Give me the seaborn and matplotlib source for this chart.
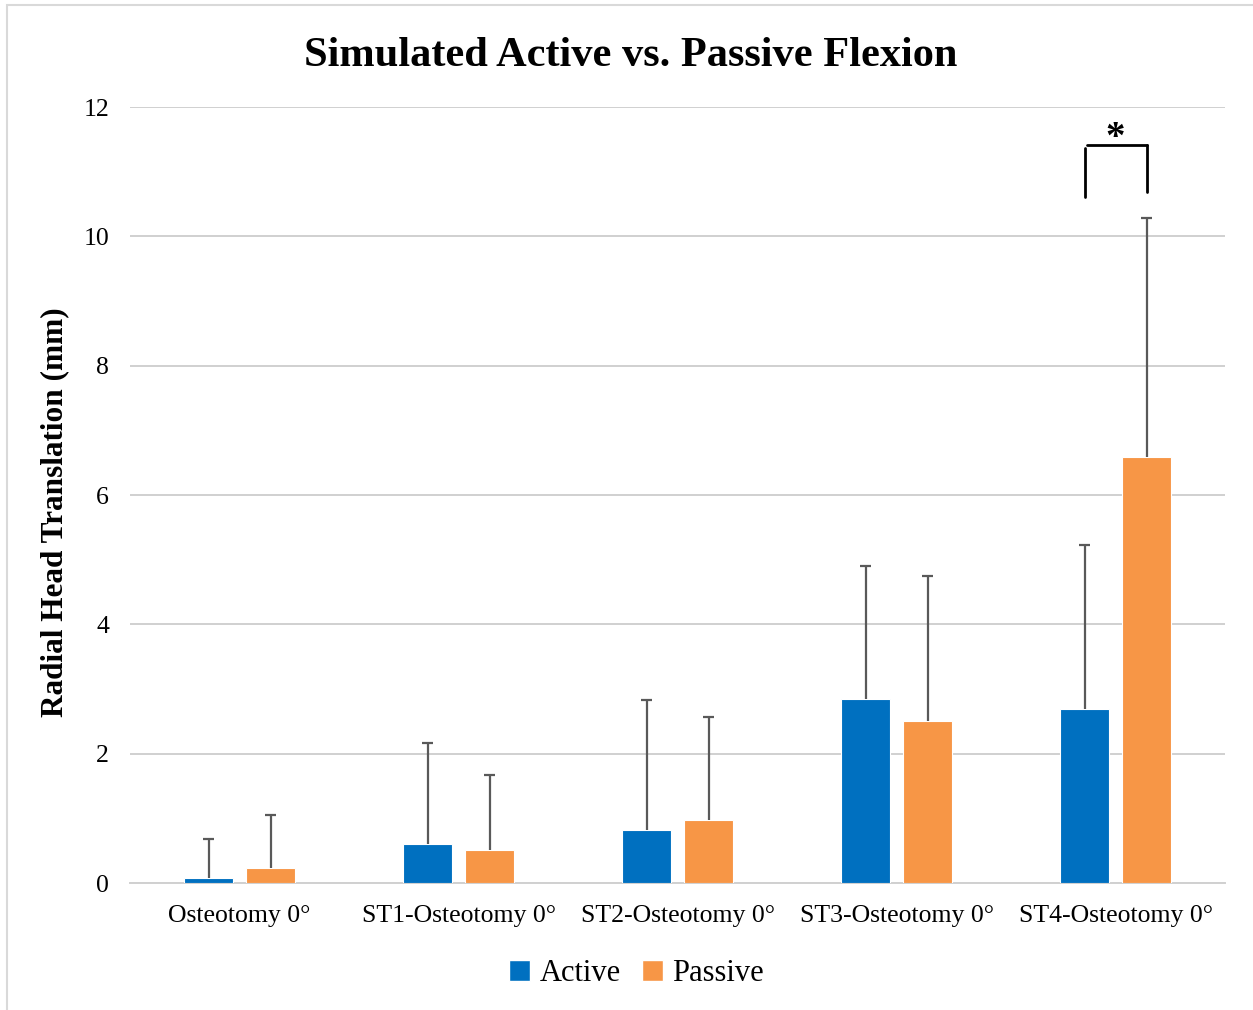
import matplotlib
matplotlib.use("Agg")
import matplotlib.pyplot as plt
import seaborn as sns
import pandas as pd
from matplotlib.patches import Rectangle, Patch

# Mean radial head translation (mm) and upper standard deviation
categories = ["Osteotomy 0°", "ST1-Osteotomy 0°", "ST2-Osteotomy 0°",
              "ST3-Osteotomy 0°", "ST4-Osteotomy 0°"]
active_mean = [0.08, 0.60, 0.82, 2.85, 2.69]
active_sd = [0.60, 1.56, 2.01, 2.05, 2.54]
passive_mean = [0.23, 0.51, 0.97, 2.50, 6.59]
passive_sd = [0.82, 1.16, 1.60, 2.25, 3.69]
series = ["Active", "Passive"]
colors = ["#0070C0", "#F79646"]

df = pd.DataFrame({
    "category": categories * 2,
    "condition": [series[0]] * 5 + [series[1]] * 5,
    "mean": active_mean + passive_mean,
    "sd": active_sd + passive_sd,
})

sns.set_theme(style="white")
plt.rcParams["font.family"] = ["Liberation Serif", "DejaVu Serif"]
plt.rcParams["text.color"] = "black"
plt.rcParams["axes.labelcolor"] = "black"

fig = plt.figure(figsize=(12.53, 10.10), dpi=100)
ax = fig.add_axes([0.1038, 0.1257, 0.8739, 0.7683])

sns.barplot(data=df, x="category", y="mean", hue="condition",
            palette=colors, order=categories, hue_order=series,
            width=0.566, gap=0.21, errorbar=None, saturation=1, ax=ax,
            edgecolor="white", linewidth=0.8, legend=False, zorder=3)

# Upward-only error bars with a cap at the top
cap_half = 0.027
for container, name in zip(ax.containers, series):
    sub = df[df["condition"] == name]
    for patch, m, s in zip(container.patches, sub["mean"], sub["sd"]):
        xc = patch.get_x() + patch.get_width() / 2
        ax.vlines(xc, m, m + s, color="#595959", lw=1.6, zorder=4)
        ax.hlines(m + s, xc - cap_half, xc + cap_half, color="#595959",
                  lw=1.6, zorder=4)

ax.set_ylim(0, 12)
ax.set_yticks(range(0, 13, 2))
ax.set_xlim(-0.5, 4.5)
ax.yaxis.grid(True, color="#D0D0D0", linewidth=1.4, zorder=0)
ax.set_axisbelow(True)
for s in ["top", "right", "left"]:
    ax.spines[s].set_visible(False)
ax.spines["bottom"].set_color("#D0D0D0")
ax.spines["bottom"].set_linewidth(1.4)
ax.tick_params(axis="both", length=0, labelsize=18.5, colors="black")
ax.tick_params(axis="x", pad=16)
ax.tick_params(axis="y", pad=15)
ax.set_xlabel("")
ax.set_ylabel("Radial Head Translation (mm)", fontsize=22.5,
              fontweight="bold", labelpad=10)
ax.yaxis.label.set_y(0.478)
fig.text(0.503, 0.945, "Simulated Active vs. Passive Flexion", fontsize=30.5,
         fontweight="bold", ha="center", va="center")

# Significance bracket between ST4 bars
p_act = ax.containers[0].patches[4]
p_pas = ax.containers[1].patches[4]
xa = p_act.get_x() + p_act.get_width() / 2
xp = p_pas.get_x() + p_pas.get_width() / 2
ax.plot([xa, xa], [10.61, 11.37], color="black", lw=2, clip_on=False)
ax.plot([xa + 0.01, xp], [11.41, 11.41], color="black", lw=2, clip_on=False)
ax.plot([xp, xp], [10.68, 11.41], color="black", lw=2, clip_on=False)
ax.text((xa + xp) / 2, 11.22, "*", ha="center", va="bottom",
        fontsize=28, fontweight="bold")

handles = [Patch(facecolor=c, label=n) for c, n in zip(colors, series)]
fig.legend(handles=handles, loc="center", bbox_to_anchor=(0.508, 0.036),
           ncol=2, frameon=False, fontsize=22, handlelength=0.7,
           handleheight=0.7, handletextpad=0.3, columnspacing=0.7)

fig.patches.append(Rectangle((0.0056, -0.01), 1.2, 1.005,
                             transform=fig.transFigure, fill=False,
                             edgecolor="#D9D9D9", linewidth=1.5))

fig.savefig("out.png", dpi=100, facecolor="white")
